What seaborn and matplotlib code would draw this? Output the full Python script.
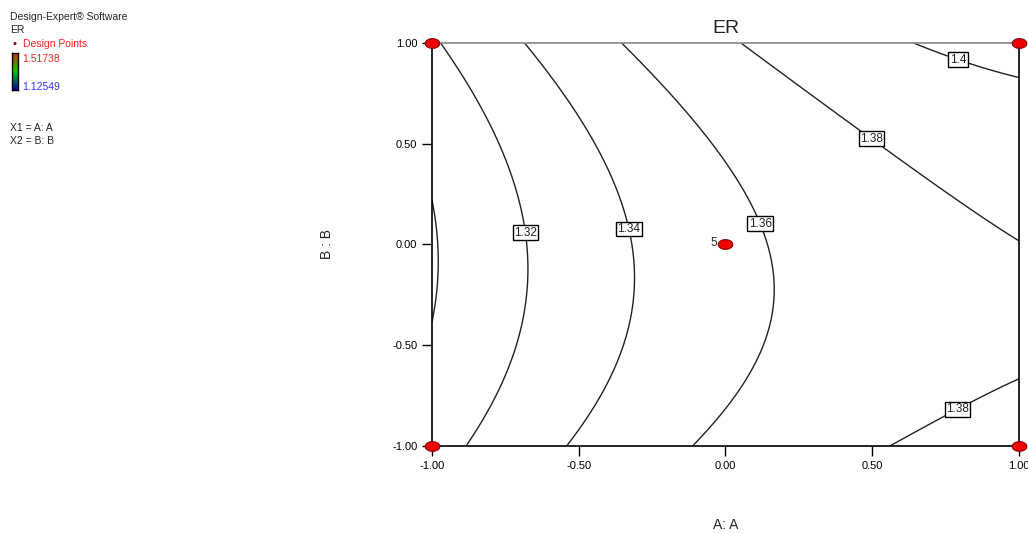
import numpy as np
import pandas as pd
import matplotlib
matplotlib.use("Agg")
import matplotlib.pyplot as plt
from matplotlib.colors import LinearSegmentedColormap
from matplotlib.path import Path
import seaborn as sns

# Fitted quadratic model for ER (coded units)
model_terms = ["Intercept", "A", "B", "AB", "A^2", "B^2"]
model_coefs = [1.3545, 0.0406, 0.0067, 0.0040, -0.0153, 0.0165]

unlabelled_levels = [1.30]
labelled_levels = [1.32, 1.34, 1.36, 1.38, 1.40]

# Design points (factorial corners + centre point with 5 replicates)
design_a = [-1.0, 1.0, -1.0, 1.0, 0.0]
design_b = [-1.0, -1.0, 1.0, 1.0, 0.0]
design_reps = [1, 1, 1, 1, 5]

tick_values = [-1.00, -0.50, 0.00, 0.50, 1.00]
er_max = "1.51738"
er_min = "1.12549"


def modelo_er(a, b):
    c = dict(zip(model_terms, model_coefs))
    return (c["Intercept"] + c["A"] * a + c["B"] * b + c["AB"] * a * b
            + c["A^2"] * a ** 2 + c["B^2"] * b ** 2)


sns.set_theme(style="white")
plt.rcParams["font.family"] = ["Liberation Sans", "DejaVu Sans"]

fig = plt.figure(figsize=(10.28, 5.34), dpi=100)
ax = fig.add_axes([0.4202, 0.1648, 0.5710, 0.7547])

# contorno
grid = np.linspace(-1, 1, 301)
AA, BB = np.meshgrid(grid, grid)
ZZ = modelo_er(AA, BB)
ax.contour(AA, BB, ZZ, levels=unlabelled_levels, colors="#222222", linewidths=1.0)
cs = ax.contour(AA, BB, ZZ, levels=labelled_levels, colors="#222222", linewidths=1.0)

# label positions chosen to sit where Design-Expert put them
label_spots = [(-0.67, 0.06), (-0.32, 0.08), (0.13, 0.11), (0.51, 0.55), (0.80, 0.95), (0.77, -0.76)]
labels = ax.clabel(cs, manual=label_spots, inline=False,
                   fontsize=8.5, fmt=lambda v: f"{v:g}", colors="#222222")
for t in labels:
    t.set_rotation(0)
    t.set_bbox(dict(boxstyle="square,pad=0.12", fc="white", ec="black", lw=1.0))

# marcador eliptico como no Design-Expert
theta = np.linspace(0, 2 * np.pi, 40)
ellipse = Path(np.column_stack([1.5 * np.cos(theta), np.sin(theta)]), closed=True)

# pontos de projeto
df_pts = pd.DataFrame({"A": design_a, "B": design_b, "reps": design_reps})
sns.scatterplot(data=df_pts, x="A", y="B", ax=ax, marker=ellipse, s=110, color="#ee0000",
                edgecolor="#880000", linewidth=0.8, legend=False, zorder=5)
ax.collections[-1].set_clip_on(False)
for _, row in df_pts.iterrows():
    if row["reps"] > 1:
        ax.annotate(f"{int(row['reps'])}", (row["A"], row["B"]), xytext=(-6, 1),
                    textcoords="offset points", fontsize=8.5, va="center", ha="right")

ax.set_xlim(-1, 1)
ax.set_ylim(-1, 1)
ax.set_xticks(tick_values)
ax.set_yticks(tick_values)
ax.set_xticklabels([f"{v:.2f}" for v in tick_values])
ax.set_yticklabels([f"{v:.2f}" for v in tick_values])
ax.tick_params(axis="both", direction="out", length=7, width=1, labelsize=8,
               colors="black", bottom=True, left=True)
for side in ["left", "bottom", "right"]:
    ax.spines[side].set_color("black")
    ax.spines[side].set_linewidth(1.2)
ax.spines["top"].set_color("#888888")
ax.spines["top"].set_linewidth(1.2)

ax.set_title("ER", fontsize=14, pad=7)
ax.set_xlabel("A: A", fontsize=10, labelpad=34)
ax.set_ylabel("B : B", fontsize=10, labelpad=42)

# legenda lateral estilo Design-Expert
fig.text(0.010, 0.968, "Design-Expert\u00ae Software", fontsize=7.5, va="center")
fig.text(0.010, 0.944, "ER", fontsize=7.5, va="center")
fig.text(0.0145, 0.918, "\u2022", fontsize=8, color="#880000", va="center", ha="center")
fig.text(0.022, 0.918, "Design Points", fontsize=7.5, color="#ff2020", va="center")
fig.text(0.022, 0.890, er_max, fontsize=7.5, color="#ff2020", va="center")
fig.text(0.022, 0.838, er_min, fontsize=7.5, color="#3333ff", va="center")
cax = fig.add_axes([12 / 1028, 1 - 90 / 534, 6 / 1028, 37 / 534])
cmap = LinearSegmentedColormap.from_list("de", ["#0000aa", "#00cc00", "#dd2200"])
cax.imshow(np.linspace(0, 1, 50)[:, None], aspect="auto", cmap=cmap, origin="lower")
cax.set_xticks([])
cax.set_yticks([])
for s in cax.spines.values():
    s.set_color("black")
    s.set_linewidth(1)
fig.text(0.010, 0.760, "X1 = A: A", fontsize=7.5, va="center")
fig.text(0.010, 0.736, "X2 = B: B", fontsize=7.5, va="center")

fig.savefig("out.png", dpi=100)
